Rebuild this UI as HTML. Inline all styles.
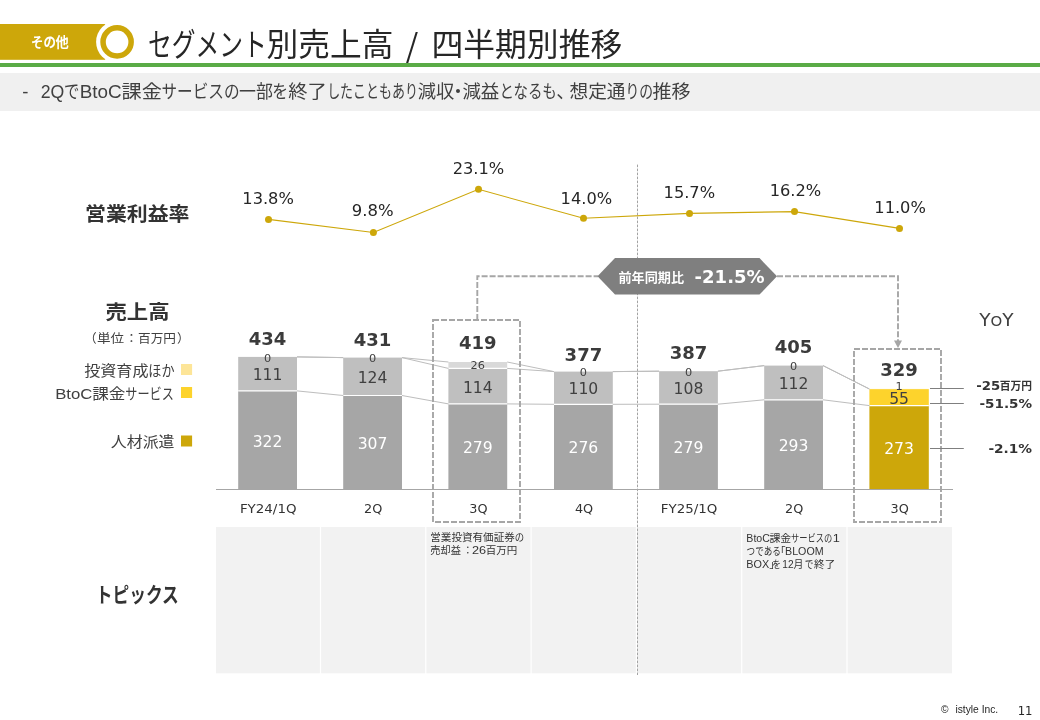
<!DOCTYPE html>
<html lang="ja">
<head>
<meta charset="utf-8">
<title>セグメント別売上高 / 四半期別推移</title>
<style>
html,body{margin:0;padding:0;background:#fff}
#slide{position:relative;width:1040px;height:720px;overflow:hidden;background:#fff;font-family:"Liberation Sans","Noto Sans CJK JP",sans-serif}
#slide svg{position:absolute;left:0;top:0;display:block}
text{white-space:pre}
</style>
</head>
<body>
<div id="slide">
<svg width="1040" height="720" viewBox="0 0 1040 720">
<rect x="0" y="24" width="105.2" height="35.8" fill="#cda70a"/>
<circle cx="117.1" cy="41.9" r="21" fill="#fff"/>
<circle cx="117.1" cy="41.9" r="14.05" fill="#fff" stroke="#cda70a" stroke-width="5.5"/>
<rect x="0" y="63" width="1040" height="4" fill="#5aab46"/>
<rect x="0" y="73" width="1040" height="38" fill="#f0f0f0"/>
<rect x="216.0" y="527" width="103.9" height="146.3" fill="#f2f2f2"/>
<rect x="321.1" y="527" width="104.1" height="146.3" fill="#f2f2f2"/>
<rect x="426.4" y="527" width="104.1" height="146.3" fill="#f2f2f2"/>
<rect x="531.7" y="527" width="104.1" height="146.3" fill="#f2f2f2"/>
<rect x="637.0" y="527" width="104.1" height="146.3" fill="#f2f2f2"/>
<rect x="742.3" y="527" width="104.1" height="146.3" fill="#f2f2f2"/>
<rect x="847.6" y="527" width="104.4" height="146.3" fill="#f2f2f2"/>
<line x1="637.5" y1="164.6" x2="637.5" y2="675" stroke="#a3a3a3" stroke-width="1" stroke-dasharray="2.6 1.4"/>
<rect x="238.20" y="390.90" width="58.8" height="98.60" fill="#a6a6a6"/>
<rect x="238.20" y="356.90" width="58.8" height="34.00" fill="#bfbfbf"/>
<line x1="238.20" y1="390.90" x2="297.00" y2="390.90" stroke="#fff" stroke-width="1.2"/>
<rect x="343.20" y="395.50" width="58.8" height="94.00" fill="#a6a6a6"/>
<rect x="343.20" y="357.60" width="58.8" height="37.90" fill="#bfbfbf"/>
<line x1="343.20" y1="395.50" x2="402.00" y2="395.50" stroke="#fff" stroke-width="1.2"/>
<rect x="448.40" y="403.90" width="58.8" height="85.60" fill="#a6a6a6"/>
<rect x="448.40" y="368.40" width="58.8" height="35.50" fill="#bfbfbf"/>
<rect x="448.40" y="362.00" width="58.8" height="6.40" fill="#d9d9d9"/>
<line x1="448.40" y1="403.90" x2="507.20" y2="403.90" stroke="#fff" stroke-width="1.2"/>
<line x1="448.40" y1="368.40" x2="507.20" y2="368.40" stroke="#fff" stroke-width="1.2"/>
<rect x="554.00" y="404.30" width="58.8" height="85.20" fill="#a6a6a6"/>
<rect x="554.00" y="371.60" width="58.8" height="32.70" fill="#bfbfbf"/>
<line x1="554.00" y1="404.30" x2="612.80" y2="404.30" stroke="#fff" stroke-width="1.2"/>
<rect x="659.10" y="404.20" width="58.8" height="85.30" fill="#a6a6a6"/>
<rect x="659.10" y="371.20" width="58.8" height="33.00" fill="#bfbfbf"/>
<line x1="659.10" y1="404.20" x2="717.90" y2="404.20" stroke="#fff" stroke-width="1.2"/>
<rect x="764.20" y="399.80" width="58.8" height="89.70" fill="#a6a6a6"/>
<rect x="764.20" y="365.60" width="58.8" height="34.20" fill="#bfbfbf"/>
<line x1="764.20" y1="399.80" x2="823.00" y2="399.80" stroke="#fff" stroke-width="1.2"/>
<rect x="869.40" y="405.60" width="59.4" height="83.90" fill="#cda70a"/>
<rect x="869.40" y="389.10" width="59.4" height="16.50" fill="#fdd32c"/>
<rect x="869.40" y="388.90" width="59.4" height="0.20" fill="#fde9a0"/>
<line x1="869.40" y1="405.60" x2="928.80" y2="405.60" stroke="#fff" stroke-width="1.2"/>
<line x1="297.00" y1="390.90" x2="343.20" y2="395.50" stroke="#bdbdbd" stroke-width="1"/>
<line x1="297.00" y1="356.90" x2="343.20" y2="357.60" stroke="#bdbdbd" stroke-width="1"/>
<line x1="297.00" y1="356.90" x2="343.20" y2="357.60" stroke="#bdbdbd" stroke-width="1"/>
<line x1="402.00" y1="395.50" x2="448.40" y2="403.90" stroke="#bdbdbd" stroke-width="1"/>
<line x1="402.00" y1="357.60" x2="448.40" y2="368.40" stroke="#bdbdbd" stroke-width="1"/>
<line x1="402.00" y1="357.60" x2="448.40" y2="362.00" stroke="#bdbdbd" stroke-width="1"/>
<line x1="507.20" y1="403.90" x2="554.00" y2="404.30" stroke="#bdbdbd" stroke-width="1"/>
<line x1="507.20" y1="368.40" x2="554.00" y2="371.60" stroke="#bdbdbd" stroke-width="1"/>
<line x1="507.20" y1="362.00" x2="554.00" y2="371.60" stroke="#bdbdbd" stroke-width="1"/>
<line x1="612.80" y1="404.30" x2="659.10" y2="404.20" stroke="#bdbdbd" stroke-width="1"/>
<line x1="612.80" y1="371.60" x2="659.10" y2="371.20" stroke="#bdbdbd" stroke-width="1"/>
<line x1="612.80" y1="371.60" x2="659.10" y2="371.20" stroke="#bdbdbd" stroke-width="1"/>
<line x1="717.90" y1="404.20" x2="764.20" y2="399.80" stroke="#bdbdbd" stroke-width="1"/>
<line x1="717.90" y1="371.20" x2="764.20" y2="365.60" stroke="#bdbdbd" stroke-width="1"/>
<line x1="717.90" y1="371.20" x2="764.20" y2="365.60" stroke="#bdbdbd" stroke-width="1"/>
<line x1="823.00" y1="399.80" x2="869.40" y2="405.60" stroke="#bdbdbd" stroke-width="1"/>
<line x1="823.00" y1="365.60" x2="869.40" y2="389.10" stroke="#bdbdbd" stroke-width="1"/>
<line x1="823.00" y1="365.60" x2="869.40" y2="388.90" stroke="#bdbdbd" stroke-width="1"/>
<line x1="216" y1="489.5" x2="953" y2="489.5" stroke="#a6a6a6" stroke-width="1"/>
<polyline points="268.5,219.4 373.4,232.5 478.5,189.3 583.5,218.3 689.5,213.4 794.5,211.6 899.5,228.4" fill="none" stroke="#cda70a" stroke-width="1.1"/>
<circle cx="268.5" cy="219.4" r="3.5" fill="#cda70a"/>
<circle cx="373.4" cy="232.5" r="3.5" fill="#cda70a"/>
<circle cx="478.5" cy="189.3" r="3.5" fill="#cda70a"/>
<circle cx="583.5" cy="218.3" r="3.5" fill="#cda70a"/>
<circle cx="689.5" cy="213.4" r="3.5" fill="#cda70a"/>
<circle cx="794.5" cy="211.6" r="3.5" fill="#cda70a"/>
<circle cx="899.5" cy="228.4" r="3.5" fill="#cda70a"/>
<rect x="433" y="320" width="87" height="202" fill="none" stroke="#a6a6a6" stroke-width="1.9" stroke-dasharray="6 2"/>
<rect x="854" y="349" width="87" height="173" fill="none" stroke="#a6a6a6" stroke-width="1.9" stroke-dasharray="6 2"/>
<polyline points="477.3,320 477.3,276.3 598,276.3" fill="none" stroke="#a6a6a6" stroke-width="1.9" stroke-dasharray="6 2"/>
<polyline points="777,276.3 898,276.3 898,341" fill="none" stroke="#a6a6a6" stroke-width="1.9" stroke-dasharray="6 2"/>
<polygon points="894,340.5 902,340.5 898,348" fill="#a6a6a6"/>
<polygon points="597.5,276.35 615,258.1 759.5,258.1 777,276.35 759.5,294.6 615,294.6" fill="#7f7f7f"/>
<rect x="181" y="364" width="11.1" height="11" fill="#fde598"/>
<rect x="181" y="387" width="11.1" height="11" fill="#fdd32c"/>
<rect x="181" y="435.5" width="11.1" height="11" fill="#cda70a"/>
<line x1="930" y1="388.5" x2="963.8" y2="388.5" stroke="#7f7f7f" stroke-width="1"/>
<line x1="930" y1="403.5" x2="963.8" y2="403.5" stroke="#7f7f7f" stroke-width="1"/>
<line x1="930" y1="448.5" x2="963.8" y2="448.5" stroke="#7f7f7f" stroke-width="1"/>
<text><tspan x="31.09" y="46.93" font-size="13.5" font-family="'Liberation Sans','Noto Sans CJK JP',sans-serif" fill="#fff" font-weight="bold" textLength="24.91" lengthAdjust="spacingAndGlyphs">その</tspan><tspan x="55.59" y="46.93" font-size="13.5" font-family="'Liberation Sans','Noto Sans CJK JP',sans-serif" fill="#fff" font-weight="bold" textLength="13.21" lengthAdjust="spacingAndGlyphs">他</tspan></text>
<text><tspan x="148.12" y="56.22" font-size="31.5" font-family="'Liberation Sans','Noto Sans CJK JP',sans-serif" fill="#262626" textLength="118.76" lengthAdjust="spacingAndGlyphs">セグメント</tspan><tspan x="266.56" y="56.22" font-size="31.5" font-family="'Liberation Sans','Noto Sans CJK JP',sans-serif" fill="#262626" textLength="126.89" lengthAdjust="spacingAndGlyphs">別売上高</tspan><tspan font-size="1"> </tspan><tspan x="405.80" y="56.90" font-size="32" font-family="'Noto Sans CJK JP',sans-serif" fill="#262626">/</tspan><tspan font-size="1"> </tspan><tspan x="431.56" y="56.22" font-size="31.5" font-family="'Liberation Sans','Noto Sans CJK JP',sans-serif" fill="#262626" textLength="190.64" lengthAdjust="spacingAndGlyphs">四半期別推移</tspan></text>
<text><tspan x="22.30" y="98.33" font-size="18.5" font-family="'Liberation Sans','Noto Sans CJK JP',sans-serif" fill="#404040">-</tspan><tspan font-size="1"> </tspan><tspan x="40.70" y="98.33" font-size="18.5" font-family="'Liberation Sans','Noto Sans CJK JP',sans-serif" fill="#404040" textLength="23.61" lengthAdjust="spacingAndGlyphs">2Q</tspan><tspan x="63.95" y="98.33" font-size="18.5" font-family="'Liberation Sans','Noto Sans CJK JP',sans-serif" fill="#404040" textLength="15.36" lengthAdjust="spacingAndGlyphs">で</tspan><tspan x="79.76" y="98.33" font-size="18.5" font-family="'Liberation Sans','Noto Sans CJK JP',sans-serif" fill="#404040" textLength="41.98" lengthAdjust="spacingAndGlyphs">BtoC</tspan><tspan x="121.44" y="98.33" font-size="18.5" font-family="'Liberation Sans','Noto Sans CJK JP',sans-serif" fill="#404040" textLength="40.41" lengthAdjust="spacingAndGlyphs">課金</tspan><tspan x="161.44" y="98.33" font-size="18.5" font-family="'Liberation Sans','Noto Sans CJK JP',sans-serif" fill="#404040" textLength="78.11" lengthAdjust="spacingAndGlyphs">サービスの</tspan><tspan x="238.94" y="98.33" font-size="18.5" font-family="'Liberation Sans','Noto Sans CJK JP',sans-serif" fill="#404040" textLength="33.91" lengthAdjust="spacingAndGlyphs">一部</tspan><tspan x="272.25" y="98.33" font-size="18.5" font-family="'Liberation Sans','Noto Sans CJK JP',sans-serif" fill="#404040" textLength="15.81" lengthAdjust="spacingAndGlyphs">を</tspan><tspan x="288.19" y="98.33" font-size="18.5" font-family="'Liberation Sans','Noto Sans CJK JP',sans-serif" fill="#404040" textLength="38.61" lengthAdjust="spacingAndGlyphs">終了</tspan><tspan x="327.13" y="98.33" font-size="18.5" font-family="'Liberation Sans','Noto Sans CJK JP',sans-serif" fill="#404040" textLength="90.74" lengthAdjust="spacingAndGlyphs">したこともあり</tspan><tspan x="417.64" y="98.33" font-size="18.5" font-family="'Liberation Sans','Noto Sans CJK JP',sans-serif" fill="#404040" textLength="36.66" lengthAdjust="spacingAndGlyphs">減収</tspan><tspan x="448.75" y="98.33" font-size="18.5" font-family="'Liberation Sans','Noto Sans CJK JP',sans-serif" fill="#404040">・</tspan><tspan x="462.44" y="98.33" font-size="18.5" font-family="'Liberation Sans','Noto Sans CJK JP',sans-serif" fill="#404040" textLength="36.86" lengthAdjust="spacingAndGlyphs">減益</tspan><tspan x="499.44" y="98.33" font-size="18.5" font-family="'Liberation Sans','Noto Sans CJK JP',sans-serif" fill="#404040" textLength="57.36" lengthAdjust="spacingAndGlyphs">となるも</tspan><tspan x="556.30" y="98.33" font-size="18.5" font-family="'Liberation Sans','Noto Sans CJK JP',sans-serif" fill="#404040">、</tspan><tspan x="569.45" y="98.33" font-size="18.5" font-family="'Liberation Sans','Noto Sans CJK JP',sans-serif" fill="#404040" textLength="56.11" lengthAdjust="spacingAndGlyphs">想定通</tspan><tspan x="625.45" y="98.33" font-size="18.5" font-family="'Liberation Sans','Noto Sans CJK JP',sans-serif" fill="#404040" textLength="27.61" lengthAdjust="spacingAndGlyphs">りの</tspan><tspan x="652.45" y="98.33" font-size="18.5" font-family="'Liberation Sans','Noto Sans CJK JP',sans-serif" fill="#404040" textLength="38.11" lengthAdjust="spacingAndGlyphs">推移</tspan></text>
<text x="85.01" y="221.19" font-size="19.7" font-family="'Liberation Sans','Noto Sans CJK JP',sans-serif" fill="#333" font-weight="bold" textLength="104.48" lengthAdjust="spacingAndGlyphs">営業利益率</text>
<text x="105.41" y="319.09" font-size="19.7" font-family="'Liberation Sans','Noto Sans CJK JP',sans-serif" fill="#333" font-weight="bold" textLength="64.08" lengthAdjust="spacingAndGlyphs">売上高</text>
<text><tspan x="84.13" y="343.01" font-size="12.4" font-family="'Liberation Sans','Noto Sans CJK JP',sans-serif" fill="#404040">（</tspan><tspan x="96.93" y="343.01" font-size="12.4" font-family="'Liberation Sans','Noto Sans CJK JP',sans-serif" fill="#404040" textLength="27.14" lengthAdjust="spacingAndGlyphs">単位</tspan><tspan x="125.30" y="343.01" font-size="12.4" font-family="'Liberation Sans','Noto Sans CJK JP',sans-serif" fill="#404040">：</tspan><tspan x="138.13" y="343.01" font-size="12.4" font-family="'Liberation Sans','Noto Sans CJK JP',sans-serif" fill="#404040" textLength="37.84" lengthAdjust="spacingAndGlyphs">百万円</tspan><tspan x="176.97" y="343.01" font-size="12.4" font-family="'Liberation Sans','Noto Sans CJK JP',sans-serif" fill="#404040">）</tspan></text>
<text><tspan x="84.15" y="375.50" font-size="15" font-family="'Liberation Sans','Noto Sans CJK JP',sans-serif" fill="#404040" textLength="64.40" lengthAdjust="spacingAndGlyphs">投資育成</tspan><tspan x="148.35" y="375.50" font-size="15" font-family="'Liberation Sans','Noto Sans CJK JP',sans-serif" fill="#404040" textLength="26.20" lengthAdjust="spacingAndGlyphs">ほか</tspan></text>
<text><tspan x="55.20" y="398.60" font-size="15" font-family="'Liberation Sans','Noto Sans CJK JP',sans-serif" fill="#404040" textLength="37.20" lengthAdjust="spacingAndGlyphs">BtoC</tspan><tspan x="92.15" y="398.60" font-size="15" font-family="'Liberation Sans','Noto Sans CJK JP',sans-serif" fill="#404040" textLength="33.30" lengthAdjust="spacingAndGlyphs">課金</tspan><tspan x="125.35" y="398.60" font-size="15" font-family="'Liberation Sans','Noto Sans CJK JP',sans-serif" fill="#404040" textLength="48.50" lengthAdjust="spacingAndGlyphs">サービス</tspan></text>
<text x="110.85" y="446.90" font-size="15" font-family="'Liberation Sans','Noto Sans CJK JP',sans-serif" fill="#404040" textLength="63.70" lengthAdjust="spacingAndGlyphs">人材派遣</text>
<text x="95.78" y="602.48" font-size="21" font-family="'Liberation Sans','Noto Sans CJK JP',sans-serif" fill="#333" font-weight="bold" textLength="83.04" lengthAdjust="spacingAndGlyphs">トピックス</text>
<text x="268.10" y="203.75" font-size="15.7" font-family="'DejaVu Sans','Liberation Sans',sans-serif" fill="#262626" text-anchor="middle" textLength="51.60" lengthAdjust="spacingAndGlyphs">13.8%</text>
<text x="372.75" y="216.20" font-size="15.7" font-family="'DejaVu Sans','Liberation Sans',sans-serif" fill="#262626" text-anchor="middle" textLength="41.80" lengthAdjust="spacingAndGlyphs">9.8%</text>
<text x="478.50" y="173.85" font-size="15.7" font-family="'DejaVu Sans','Liberation Sans',sans-serif" fill="#262626" text-anchor="middle" textLength="51.60" lengthAdjust="spacingAndGlyphs">23.1%</text>
<text x="586.40" y="203.50" font-size="15.7" font-family="'DejaVu Sans','Liberation Sans',sans-serif" fill="#262626" text-anchor="middle" textLength="51.60" lengthAdjust="spacingAndGlyphs">14.0%</text>
<text x="689.35" y="197.80" font-size="15.7" font-family="'DejaVu Sans','Liberation Sans',sans-serif" fill="#262626" text-anchor="middle" textLength="51.60" lengthAdjust="spacingAndGlyphs">15.7%</text>
<text x="795.50" y="195.80" font-size="15.7" font-family="'DejaVu Sans','Liberation Sans',sans-serif" fill="#262626" text-anchor="middle" textLength="51.60" lengthAdjust="spacingAndGlyphs">16.2%</text>
<text x="900.10" y="212.70" font-size="15.7" font-family="'DejaVu Sans','Liberation Sans',sans-serif" fill="#262626" text-anchor="middle" textLength="51.60" lengthAdjust="spacingAndGlyphs">11.0%</text>
<text x="267.60" y="344.60" font-size="17.5" font-family="'DejaVu Sans','Liberation Sans',sans-serif" fill="#3b3b3b" text-anchor="middle" font-weight="bold" textLength="37.60" lengthAdjust="spacingAndGlyphs">434</text>
<text x="372.60" y="345.60" font-size="17.5" font-family="'DejaVu Sans','Liberation Sans',sans-serif" fill="#3b3b3b" text-anchor="middle" font-weight="bold" textLength="37.60" lengthAdjust="spacingAndGlyphs">431</text>
<text x="477.80" y="348.50" font-size="17.5" font-family="'DejaVu Sans','Liberation Sans',sans-serif" fill="#3b3b3b" text-anchor="middle" font-weight="bold" textLength="37.60" lengthAdjust="spacingAndGlyphs">419</text>
<text x="583.40" y="360.80" font-size="17.5" font-family="'DejaVu Sans','Liberation Sans',sans-serif" fill="#3b3b3b" text-anchor="middle" font-weight="bold" textLength="37.60" lengthAdjust="spacingAndGlyphs">377</text>
<text x="688.50" y="358.50" font-size="17.5" font-family="'DejaVu Sans','Liberation Sans',sans-serif" fill="#3b3b3b" text-anchor="middle" font-weight="bold" textLength="37.60" lengthAdjust="spacingAndGlyphs">387</text>
<text x="793.60" y="352.90" font-size="17.5" font-family="'DejaVu Sans','Liberation Sans',sans-serif" fill="#3b3b3b" text-anchor="middle" font-weight="bold" textLength="37.60" lengthAdjust="spacingAndGlyphs">405</text>
<text x="899.10" y="375.70" font-size="17.5" font-family="'DejaVu Sans','Liberation Sans',sans-serif" fill="#3b3b3b" text-anchor="middle" font-weight="bold" textLength="37.60" lengthAdjust="spacingAndGlyphs">329</text>
<text x="267.60" y="446.70" font-size="15.6" font-family="'DejaVu Sans','Liberation Sans',sans-serif" fill="#fff" text-anchor="middle">322</text>
<text x="267.60" y="380.40" font-size="15.6" font-family="'DejaVu Sans','Liberation Sans',sans-serif" fill="#404040" text-anchor="middle">111</text>
<text x="267.60" y="361.60" font-size="11.3" font-family="'DejaVu Sans','Liberation Sans',sans-serif" fill="#404040" text-anchor="middle">0</text>
<text x="372.60" y="449.00" font-size="15.6" font-family="'DejaVu Sans','Liberation Sans',sans-serif" fill="#fff" text-anchor="middle">307</text>
<text x="372.60" y="383.05" font-size="15.6" font-family="'DejaVu Sans','Liberation Sans',sans-serif" fill="#404040" text-anchor="middle">124</text>
<text x="372.60" y="362.30" font-size="11.3" font-family="'DejaVu Sans','Liberation Sans',sans-serif" fill="#404040" text-anchor="middle">0</text>
<text x="477.80" y="453.20" font-size="15.6" font-family="'DejaVu Sans','Liberation Sans',sans-serif" fill="#fff" text-anchor="middle">279</text>
<text x="477.80" y="392.65" font-size="15.6" font-family="'DejaVu Sans','Liberation Sans',sans-serif" fill="#404040" text-anchor="middle">114</text>
<text x="477.80" y="369.30" font-size="11.3" font-family="'DejaVu Sans','Liberation Sans',sans-serif" fill="#404040" text-anchor="middle">26</text>
<text x="583.40" y="453.40" font-size="15.6" font-family="'DejaVu Sans','Liberation Sans',sans-serif" fill="#fff" text-anchor="middle">276</text>
<text x="583.40" y="394.45" font-size="15.6" font-family="'DejaVu Sans','Liberation Sans',sans-serif" fill="#404040" text-anchor="middle">110</text>
<text x="583.40" y="376.30" font-size="11.3" font-family="'DejaVu Sans','Liberation Sans',sans-serif" fill="#404040" text-anchor="middle">0</text>
<text x="688.50" y="453.35" font-size="15.6" font-family="'DejaVu Sans','Liberation Sans',sans-serif" fill="#fff" text-anchor="middle">279</text>
<text x="688.50" y="394.20" font-size="15.6" font-family="'DejaVu Sans','Liberation Sans',sans-serif" fill="#404040" text-anchor="middle">108</text>
<text x="688.50" y="375.90" font-size="11.3" font-family="'DejaVu Sans','Liberation Sans',sans-serif" fill="#404040" text-anchor="middle">0</text>
<text x="793.60" y="451.15" font-size="15.6" font-family="'DejaVu Sans','Liberation Sans',sans-serif" fill="#fff" text-anchor="middle">293</text>
<text x="793.60" y="389.20" font-size="15.6" font-family="'DejaVu Sans','Liberation Sans',sans-serif" fill="#404040" text-anchor="middle">112</text>
<text x="793.60" y="370.30" font-size="11.3" font-family="'DejaVu Sans','Liberation Sans',sans-serif" fill="#404040" text-anchor="middle">0</text>
<text x="899.10" y="454.05" font-size="15.6" font-family="'DejaVu Sans','Liberation Sans',sans-serif" fill="#fff" text-anchor="middle">273</text>
<text x="899.10" y="403.85" font-size="15.6" font-family="'DejaVu Sans','Liberation Sans',sans-serif" fill="#404040" text-anchor="middle">55</text>
<text x="899.10" y="389.75" font-size="11.3" font-family="'DejaVu Sans','Liberation Sans',sans-serif" fill="#404040" text-anchor="middle">1</text>
<text x="268.20" y="513.30" font-size="12.8" font-family="'DejaVu Sans','Liberation Sans',sans-serif" fill="#333" text-anchor="middle" textLength="56.60" lengthAdjust="spacingAndGlyphs">FY24/1Q</text>
<text x="373.20" y="513.30" font-size="12.8" font-family="'DejaVu Sans','Liberation Sans',sans-serif" fill="#333" text-anchor="middle">2Q</text>
<text x="478.40" y="513.30" font-size="12.8" font-family="'DejaVu Sans','Liberation Sans',sans-serif" fill="#333" text-anchor="middle">3Q</text>
<text x="584.00" y="513.30" font-size="12.8" font-family="'DejaVu Sans','Liberation Sans',sans-serif" fill="#333" text-anchor="middle">4Q</text>
<text x="689.10" y="513.30" font-size="12.8" font-family="'DejaVu Sans','Liberation Sans',sans-serif" fill="#333" text-anchor="middle" textLength="56.60" lengthAdjust="spacingAndGlyphs">FY25/1Q</text>
<text x="794.20" y="513.30" font-size="12.8" font-family="'DejaVu Sans','Liberation Sans',sans-serif" fill="#333" text-anchor="middle">2Q</text>
<text x="899.70" y="513.30" font-size="12.8" font-family="'DejaVu Sans','Liberation Sans',sans-serif" fill="#333" text-anchor="middle">3Q</text>
<text><tspan x="618.42" y="281.53" font-size="12.7" font-family="'Liberation Sans','Noto Sans CJK JP',sans-serif" fill="#fff" font-weight="bold" textLength="65.76" lengthAdjust="spacingAndGlyphs">前年同期比</tspan><tspan font-size="1"> </tspan><tspan x="694.60" y="282.70" font-size="18.5" font-family="'DejaVu Sans','Liberation Sans',sans-serif" fill="#fff" font-weight="bold" textLength="70.00" lengthAdjust="spacingAndGlyphs">-21.5%</tspan></text>
<text x="979.3" y="325.6" font-size="17.4" font-family="'DejaVu Sans','Liberation Sans',sans-serif" fill="#404040" textLength="34.4" lengthAdjust="spacingAndGlyphs">Y<tspan font-size="14">O</tspan>Y</text>
<text><tspan x="976.20" y="389.70" font-size="12.9" font-family="'DejaVu Sans','Liberation Sans',sans-serif" fill="#333" font-weight="bold" textLength="24.00" lengthAdjust="spacingAndGlyphs">-25</tspan><tspan x="999.67" y="390.00" font-size="10.9" font-family="'Liberation Sans','Noto Sans CJK JP',sans-serif" fill="#333" font-weight="bold" textLength="32.25" lengthAdjust="spacingAndGlyphs">百万円</tspan></text>
<text x="979.50" y="407.70" font-size="12.9" font-family="'DejaVu Sans','Liberation Sans',sans-serif" fill="#333" font-weight="bold" textLength="52.60" lengthAdjust="spacingAndGlyphs">-51.5%</text>
<text x="988.40" y="452.80" font-size="12.9" font-family="'DejaVu Sans','Liberation Sans',sans-serif" fill="#333" font-weight="bold" textLength="43.70" lengthAdjust="spacingAndGlyphs">-2.1%</text>
<text><tspan x="430.28" y="541.42" font-size="10.6" font-family="'Liberation Sans','Noto Sans CJK JP',sans-serif" fill="#333" textLength="84.54" lengthAdjust="spacingAndGlyphs">営業投資有価証券</tspan><tspan x="514.68" y="541.42" font-size="10.6" font-family="'Liberation Sans','Noto Sans CJK JP',sans-serif" fill="#333" textLength="9.39" lengthAdjust="spacingAndGlyphs">の</tspan></text>
<text><tspan x="430.28" y="553.92" font-size="10.6" font-family="'Liberation Sans','Noto Sans CJK JP',sans-serif" fill="#333" textLength="30.64" lengthAdjust="spacingAndGlyphs">売却益</tspan><tspan x="462.50" y="553.92" font-size="10.6" font-family="'Liberation Sans','Noto Sans CJK JP',sans-serif" fill="#333">：</tspan><tspan x="471.97" y="553.92" font-size="10.6" font-family="'Liberation Sans','Noto Sans CJK JP',sans-serif" fill="#333" textLength="14.16" lengthAdjust="spacingAndGlyphs">26</tspan><tspan x="485.68" y="553.92" font-size="10.6" font-family="'Liberation Sans','Noto Sans CJK JP',sans-serif" fill="#333" textLength="31.54" lengthAdjust="spacingAndGlyphs">百万円</tspan></text>
<text><tspan x="746.37" y="541.72" font-size="10.6" font-family="'Liberation Sans','Noto Sans CJK JP',sans-serif" fill="#333" textLength="23.56" lengthAdjust="spacingAndGlyphs">BtoC</tspan><tspan x="769.43" y="541.72" font-size="10.6" font-family="'Liberation Sans','Noto Sans CJK JP',sans-serif" fill="#333" textLength="21.89" lengthAdjust="spacingAndGlyphs">課金</tspan><tspan x="790.93" y="541.72" font-size="10.6" font-family="'Liberation Sans','Noto Sans CJK JP',sans-serif" fill="#333" textLength="41.29" lengthAdjust="spacingAndGlyphs">サービスの</tspan><tspan x="832.69" y="541.72" font-size="10.6" font-family="'Liberation Sans','Noto Sans CJK JP',sans-serif" fill="#333" textLength="7.12" lengthAdjust="spacingAndGlyphs">1</tspan></text>
<text><tspan x="746.58" y="555.17" font-size="10.6" font-family="'Liberation Sans','Noto Sans CJK JP',sans-serif" fill="#333" textLength="34.34" lengthAdjust="spacingAndGlyphs">つである</tspan><tspan x="774.93" y="555.17" font-size="10.6" font-family="'Liberation Sans','Noto Sans CJK JP',sans-serif" fill="#333">「</tspan><tspan x="785.07" y="555.17" font-size="10.6" font-family="'Liberation Sans','Noto Sans CJK JP',sans-serif" fill="#333" textLength="38.56" lengthAdjust="spacingAndGlyphs">BLOOM</tspan></text>
<text><tspan x="746.37" y="567.67" font-size="10.6" font-family="'Liberation Sans','Noto Sans CJK JP',sans-serif" fill="#333" textLength="22.91" lengthAdjust="spacingAndGlyphs">BOX</tspan><tspan x="769.31" y="567.67" font-size="10.6" font-family="'Liberation Sans','Noto Sans CJK JP',sans-serif" fill="#333">」</tspan><tspan x="772.18" y="567.67" font-size="10.6" font-family="'Liberation Sans','Noto Sans CJK JP',sans-serif" fill="#333" textLength="8.74" lengthAdjust="spacingAndGlyphs">を</tspan><tspan x="782.36" y="567.67" font-size="10.6" font-family="'Liberation Sans','Noto Sans CJK JP',sans-serif" fill="#333" textLength="11.27" lengthAdjust="spacingAndGlyphs">12</tspan><tspan x="793.43" y="567.67" font-size="10.6" font-family="'Liberation Sans','Noto Sans CJK JP',sans-serif" fill="#333" textLength="9.89" lengthAdjust="spacingAndGlyphs">月</tspan><tspan x="804.68" y="567.67" font-size="10.6" font-family="'Liberation Sans','Noto Sans CJK JP',sans-serif" fill="#333" textLength="8.64" lengthAdjust="spacingAndGlyphs">で</tspan><tspan x="814.08" y="567.67" font-size="10.6" font-family="'Liberation Sans','Noto Sans CJK JP',sans-serif" fill="#333" textLength="21.24" lengthAdjust="spacingAndGlyphs">終了</tspan></text>
<text><tspan x="941.00" y="712.90" font-size="10.2" font-family="'Liberation Sans',sans-serif" fill="#262626">©</tspan><tspan font-size="1"> </tspan><tspan x="955.40" y="712.90" font-size="10.2" font-family="'Liberation Sans',sans-serif" fill="#262626" textLength="42.80" lengthAdjust="spacingAndGlyphs">istyle Inc.</tspan></text>
<text x="1017.70" y="714.60" font-size="11.4" font-family="'DejaVu Sans','Liberation Sans',sans-serif" fill="#262626" textLength="14.80" lengthAdjust="spacingAndGlyphs">11</text>
</svg>
</div>
</body>
</html>
